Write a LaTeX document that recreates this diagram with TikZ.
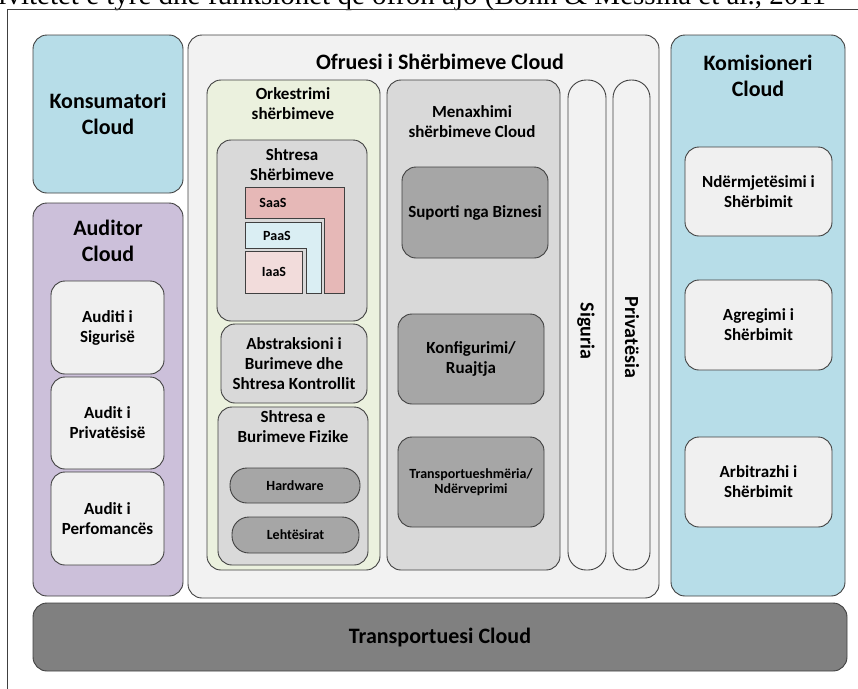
\documentclass[tikz,border=0pt]{standalone}
\usepackage{fontspec}
\setmainfont{Carlito}
\newfontfamily\citefont{Liberation Serif}
\definecolor{edge}{RGB}{64,64,64}
\definecolor{aqua}{RGB}{183,221,232}
\definecolor{lilac}{RGB}{204,192,218}
\definecolor{ofrc}{RGB}{242,242,242}
\definecolor{greenc}{RGB}{235,241,222}
\definecolor{grayc}{RGB}{217,217,217}
\definecolor{darkc}{RGB}{166,166,166}
\definecolor{lightc}{RGB}{240,240,240}
\definecolor{transc}{RGB}{128,128,128}
\definecolor{saasc}{RGB}{230,184,183}
\definecolor{paasc}{RGB}{218,238,243}
\definecolor{iaasc}{RGB}{242,220,219}

\begin{document}
\begin{tikzpicture}[x=1pt,y=-1pt,line width=0.9pt,
  box/.style={draw=edge,rounded corners=14pt,inner sep=0pt,align=center},
  pill/.style={draw=edge,rounded corners=17pt,inner sep=0pt,align=center},
  big/.style={align=center,font=\fontsize{22}{26}\selectfont\bfseries},
  mid/.style={align=center,font=\fontsize{17}{20}\selectfont\bfseries},
  small/.style={align=center,font=\fontsize{14}{15.5}\selectfont\bfseries}]
\useasboundingbox (0,0) rectangle (858,688);
\begin{scope}
\clip (0,0) rectangle (858,688);
\node[anchor=base west,inner sep=0pt,font=\citefont\fontsize{29}{31}\selectfont] (cite) at (-2,5)
  {ivitetet e tyre dhe funksionet që ofron ajo (Bohn \& Messina et al., 2011};
\end{scope}
\coordinate (fa) at (7.3,690);
\coordinate (fb) at (7.3,9.5);
\coordinate (fc) at (860,9.5);
\draw[edge,line width=1.2pt] (fa) -- (fb) -- (fc);

\node[box,fill=aqua,big,minimum width=150pt,minimum height=158pt] (kons) at (108,114) {Konsumatori\\Cloud};
\node[box,fill=lilac,minimum width=150pt,minimum height=393pt] (aud) at (108,399.5) {};
\node[big] (audt) at (108,241) {Auditor\\Cloud};
\node[box,fill=lightc,mid,minimum width=113pt,minimum height=93pt] (aud1) at (107.5,327.5) {Auditi i\\Sigurisë};
\node[box,fill=lightc,mid,minimum width=113pt,minimum height=92pt] (aud2) at (107.5,423) {Audit i\\Privatësisë};
\node[box,fill=lightc,mid,minimum width=113pt,minimum height=93pt] (aud3) at (107.5,518.5) {Audit i\\Perfomancës};

\node[box,fill=ofrc,minimum width=471pt,minimum height=563pt] (ofr) at (423.5,316.5) {};
\node[big] (ofrt) at (440,62) {Ofruesi i Shërbimeve Cloud};
\node[box,fill=greenc,minimum width=173pt,minimum height=490pt] (ork) at (293.5,325) {};
\node[mid] (orkt) at (293,104) {Orkestrimi\\shërbimeve};
\node[box,fill=grayc,minimum width=150pt,minimum height=181pt] (shs) at (292,230.5) {};
\node[mid] (shst) at (292,165) {Shtresa\\Shërbimeve};
\draw[edge,fill=saasc] (245,187) -- (344,187) -- (344,293) -- (324,293) -- (324,218) -- (245,218) -- cycle;
\draw[edge,fill=paasc] (245,222) -- (321,222) -- (321,293) -- (306,293) -- (306,248) -- (245,248) -- cycle;
\draw[edge,fill=iaasc] (245,251) rectangle (302,293);
\node[small] (saas) at (273,203) {SaaS};
\node[small] (paas) at (277,236) {PaaS};
\node[small] (iaas) at (274,272) {IaaS};
\node[box,fill=grayc,mid,minimum width=146pt,minimum height=79pt] (abs) at (294,363.5) {Abstraksioni i\\Burimeve dhe\\Shtresa Kontrollit};
\node[box,fill=grayc,minimum width=150pt,minimum height=158pt] (fiz) at (293,486) {};
\node[mid] (fizt) at (293,427) {Shtresa e\\Burimeve Fizike};
\node[pill,fill=darkc,small,minimum width=130pt,minimum height=35pt] (hw) at (295,485.5) {Hardware};
\node[pill,fill=darkc,small,minimum width=127pt,minimum height=36pt] (leh) at (295.5,535) {Lehtësirat};

\node[box,fill=grayc,minimum width=173pt,minimum height=490pt] (men) at (473.5,325) {};
\node[mid] (ment) at (472,121.5) {Menaxhimi\\shërbimeve Cloud};
\node[box,fill=darkc,mid,minimum width=146pt,minimum height=91pt] (sup) at (475,212.5) {Suporti nga Biznesi};
\node[box,fill=darkc,mid,minimum width=146pt,minimum height=90pt] (konf) at (471,359) {Konfigurimi/\\Ruajtja};
\node[box,fill=darkc,small,minimum width=146pt,minimum height=90pt] (trp) at (471,482) {Transportueshmëria/\\Ndërveprimi};

\node[draw=edge,fill=ofrc,rounded corners=18pt,minimum width=38pt,minimum height=490pt] (sig) at (587,325) {};
\node[big,rotate=-90,font=\fontsize{20}{24}\selectfont\bfseries] (sigt) at (586,331) {Siguria};
\node[draw=edge,fill=ofrc,rounded corners=18pt,minimum width=37pt,minimum height=490pt] (priv) at (631.5,325) {};
\node[big,rotate=-90,font=\fontsize{20}{24}\selectfont\bfseries] (privt) at (632,337.5) {Privatësia};

\node[box,fill=aqua,minimum width=174pt,minimum height=561pt] (kom) at (758,315.5) {};
\node[big] (komt) at (758,76) {Komisioneri\\Cloud};
\node[box,fill=lightc,mid,minimum width=147pt,minimum height=89pt] (ndm) at (758.5,191.5) {Ndërmjetësimi i\\Shërbimit};
\node[box,fill=lightc,mid,minimum width=147pt,minimum height=90pt] (agr) at (758.5,325) {Agregimi i\\Shërbimit};
\node[box,fill=lightc,mid,minimum width=147pt,minimum height=90pt] (arb) at (758.5,482) {Arbitrazhi i\\Shërbimit};

\node[box,fill=transc,big,minimum width=814pt,minimum height=68pt] (trans) at (440,637) {Transportuesi Cloud};
\end{tikzpicture}
\end{document}
